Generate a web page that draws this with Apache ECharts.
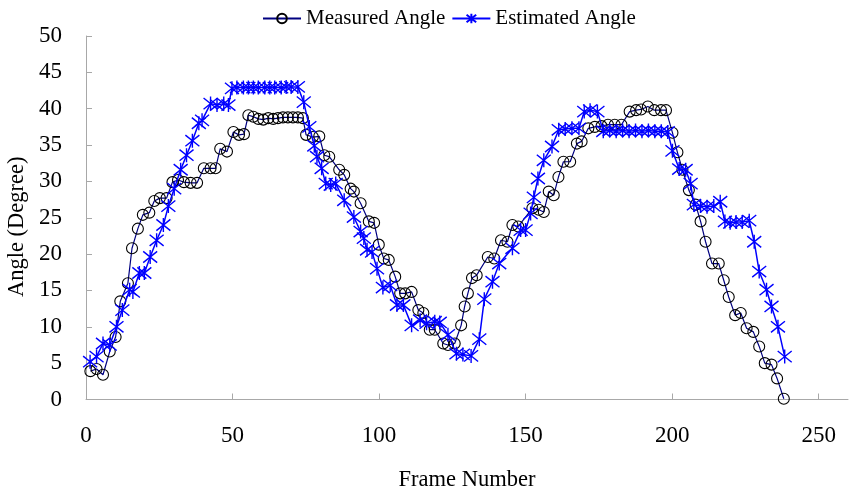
<!DOCTYPE html>
<html>
<head>
<meta charset="utf-8">
<script src="https://cdn.jsdelivr.net/npm/echarts@6/dist/echarts.min.js"></script>
<style>
html,body{margin:0;padding:0;background:#fff;}
#chart{width:853px;height:490px;}
</style>
</head>
<body>
<div id="chart"></div>
<script>
const measuredFrames = [1.5,3.6,5.8,8.1,10.1,11.7,14.3,15.7,17.7,19.4,21.6,23.3,25.2,27.5,29.5,31.4,33.4,35.7,37.9,40.2,42.5,44.2,45.8,48.1,50.3,52.2,53.9,55.4,57.1,58.8,60.5,62.2,63.9,65.5,67.2,68.9,70.6,72.3,74.0,75.1,77.4,79.6,81.3,83.0,86.4,88.1,90.3,91.4,93.7,96.5,98.3,99.9,101.6,103.3,105.5,107.2,108.9,111.1,113.4,115.1,117.3,119.0,121.9,123.5,125.8,128.0,129.2,130.3,131.7,133.3,137.1,139.3,141.6,143.8,145.5,147.5,152.3,154.5,156.2,157.9,159.6,161.2,162.9,165.2,167.5,169.1,171.4,173.6,175.9,178.1,180.4,182.7,185.5,187.7,189.4,191.7,193.9,196.2,197.9,200.1,201.8,203.5,205.7,208.0,209.7,211.4,213.6,215.9,217.6,219.3,221.5,223.4,225.4,227.7,229.7,231.6,233.9,235.8,238.1];
const measuredAngles = [3.9,4.2,3.4,6.6,8.6,13.5,16.0,20.8,23.5,25.4,25.7,27.3,27.7,27.7,29.9,30.2,29.9,29.8,29.8,31.8,31.8,31.8,34.5,34.1,36.8,36.4,36.5,39.1,38.9,38.6,38.5,38.7,38.6,38.7,38.8,38.8,38.8,38.8,38.7,36.4,36.1,36.2,33.6,33.4,31.6,30.9,29.0,28.6,27.0,24.5,24.3,21.3,19.4,19.2,16.9,14.6,14.6,14.8,12.3,11.9,9.6,9.6,7.7,7.5,7.7,10.2,12.8,14.6,16.7,17.1,19.6,19.4,21.9,21.7,24.0,23.8,26.3,26.1,25.8,28.6,28.1,30.6,32.7,32.7,35.2,35.5,37.3,37.5,37.6,37.8,37.8,37.8,39.6,39.8,39.9,40.3,39.8,39.8,39.8,36.7,34.0,31.6,28.8,26.8,24.5,21.7,18.7,18.7,16.4,14.1,11.6,11.9,9.8,9.3,7.3,5.0,4.8,2.9,0.1];

const estimatedFrames = [1.4,3.6,5.8,8.1,10.4,12.4,14.9,16.0,18.2,19.9,21.9,24.1,26.4,28.1,30.1,32.3,34.3,36.3,38.5,39.6,42.5,44.7,47.0,48.6,49.8,51.5,53.7,55.4,57.1,58.8,61.0,62.7,64.4,66.6,68.3,70.0,72.3,74.3,76.2,77.9,78.8,80.4,81.8,83.5,85.2,88.1,91.4,93.7,94.8,95.9,97.6,99.3,101.3,103.8,106.1,108.3,111.1,114.0,116.2,119.0,120.7,123.5,126.4,128.6,131.4,134.2,135.9,138.7,141.0,145.5,148.3,150.0,151.7,152.8,154.2,156.2,159.0,161.3,163.5,165.8,168.2,170.0,172.0,174.5,176.5,178.7,180.9,183.1,185.3,187.5,189.7,191.9,194.1,196.3,198.5,200.1,202.4,204.6,206.3,207.4,209.7,211.9,214.2,216.4,218.0,219.8,221.8,223.9,226.3,228.0,229.7,232.2,233.9,236.1,238.4];
const estimatedAngles = [5.2,5.9,7.7,7.5,10.0,12.3,15.1,14.8,17.4,17.4,19.6,21.9,24.0,26.6,29.0,31.6,33.6,35.6,38.0,38.4,40.7,40.5,40.7,40.5,42.8,42.9,42.9,42.9,42.9,42.9,42.9,42.9,42.9,42.9,43.0,43.0,43.0,40.9,37.5,34.9,33.4,31.8,29.7,29.5,29.7,27.4,25.1,23.1,22.2,20.6,20.3,18.0,15.4,15.7,13.0,13.0,10.2,10.9,10.5,10.7,10.6,8.9,6.3,6.2,6.0,8.3,13.8,16.2,18.7,20.8,23.3,23.3,25.6,27.8,30.4,32.9,34.8,37.1,37.2,37.3,37.3,39.6,39.8,39.6,36.9,37.0,36.9,37.0,36.9,37.0,36.9,37.0,36.9,36.9,36.8,34.2,31.7,31.6,29.7,26.8,26.6,26.5,26.6,27.2,24.5,24.3,24.4,24.4,24.6,21.7,17.6,15.1,12.8,10.0,5.9];

const xTicks = [0,50,100,150,200,250];
const yTicks = [0,5,10,15,20,25,30,35,40,45,50];

const measuredData = measuredFrames.map((f,i)=>[f, measuredAngles[i]]);
const estimatedData = estimatedFrames.map((f,i)=>[f, estimatedAngles[i]]);

const FONT = 'Liberation Serif';
const axisGrey = '#a8a8a8';
const asterisk = 'path://M-1,-1L1,1M-1,1L1,-1M0,-1.25L0,1.25';

const chart = echarts.init(document.getElementById('chart'), null, {renderer:'canvas'});
chart.setOption({
  animation: false,
  backgroundColor: '#ffffff',
  textStyle: {fontFamily: FONT, color: '#000'},
  legend: {
    top: 3,
    left: 257,
    itemWidth: 38,
    itemHeight: 12,
    itemGap: 6,
    textStyle: {fontFamily: FONT, fontSize: 21, color: '#000'},
    data: ['Measured Angle','Estimated Angle']
  },
  grid: {left: 86, right: 5, top: 36, bottom: 90.5, containLabel: false, outerBoundsMode: 'none'},
  xAxis: {
    type: 'value',
    min: 0, max: 260, interval: 50,
    name: 'Frame Number',
    nameLocation: 'middle',
    nameGap: 69,
    nameTextStyle: {fontFamily: FONT, fontSize: 22.5, color: '#000'},
    axisLine: {lineStyle: {color: axisGrey, width: 1}},
    axisTick: {inside: true, length: 6, lineStyle: {color: axisGrey}, customValues: xTicks},
    axisLabel: {margin: 25, fontFamily: FONT, fontSize: 23, color: '#000', customValues: xTicks},
    splitLine: {show: false}
  },
  yAxis: {
    type: 'value',
    min: 0, max: 50, interval: 5,
    name: 'Angle (Degree)',
    nameLocation: 'middle',
    nameGap: 55,
    nameRotate: 90,
    nameTextStyle: {fontFamily: FONT, fontSize: 22.5, color: '#000', padding: [0, 18, 0, 0]},
    axisLine: {show: true, lineStyle: {color: axisGrey, width: 1}},
    axisTick: {show: true, inside: true, length: 6, lineStyle: {color: axisGrey}},
    axisLabel: {margin: 24, fontFamily: FONT, fontSize: 23, color: '#000'},
    splitLine: {show: false}
  },
  series: [
    {
      name: 'Measured Angle',
      type: 'line',
      data: measuredData,
      showAllSymbol: true,
      symbol: 'circle',
      symbolSize: 11,
      lineStyle: {color: '#000080', width: 1.2},
      itemStyle: {color: 'rgba(255,255,255,0)', borderColor: '#000000', borderWidth: 1.1},
      z: 2
    },
    {
      name: 'Estimated Angle',
      type: 'line',
      data: estimatedData,
      showAllSymbol: true,
      symbol: asterisk,
      symbolSize: 14,
      lineStyle: {color: '#0000ff', width: 1.5},
      itemStyle: {color: 'rgba(0,0,255,0)', borderColor: '#0000ff', borderWidth: 1.4},
      z: 3
    }
  ]
});
</script>
</body>
</html>
